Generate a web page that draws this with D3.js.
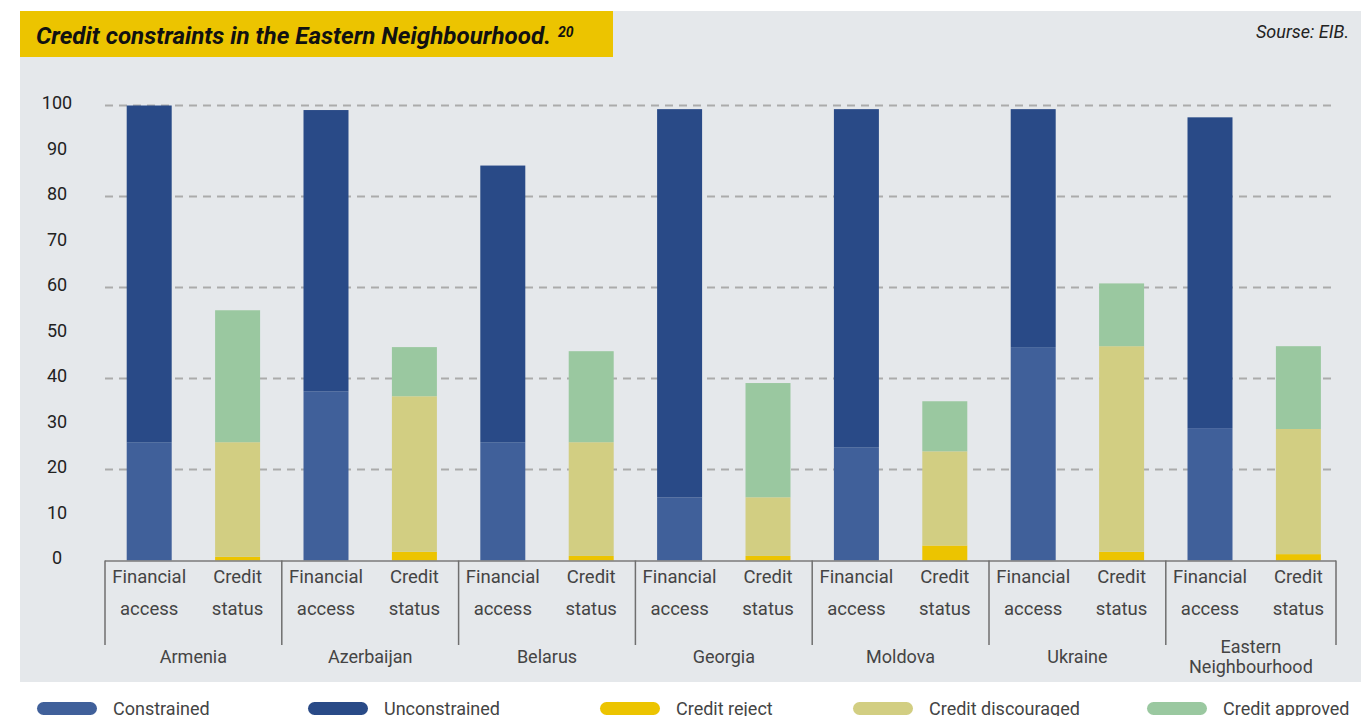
<!DOCTYPE html>
<html>
<head>
<meta charset="utf-8">
<script src="https://cdn.jsdelivr.net/npm/d3@7"></script>
<style>
  html, body { margin: 0; padding: 0; background: #ffffff; }
  svg { display: block; font-family: Roboto, "Open Sans", sans-serif; }
</style>
</head>
<body>
<svg id="chart" width="1361" height="716"></svg>
<script>
// ---------- data ----------
const countries = ["Armenia", "Azerbaijan", "Belarus", "Georgia", "Moldova", "Ukraine", "Eastern Neighbourhood"];
const countryLines = [["Armenia"], ["Azerbaijan"], ["Belarus"], ["Georgia"], ["Moldova"], ["Ukraine"], ["Eastern", "Neighbourhood"]];
const subCategories = ["Financial access", "Credit status"];
const subLines = [["Financial", "access"], ["Credit", "status"]];
const constrained      = [26.0, 37.2, 26.0, 13.9, 24.9, 46.9, 29.1];
const unconstrained    = [74.0, 61.8, 60.8, 85.3, 74.3, 52.3, 68.3];
const creditReject     = [0.8, 1.9, 1.0, 1.0, 3.3, 1.9, 1.4];
const creditDiscouraged= [25.2, 34.2, 25.0, 12.9, 20.7, 45.2, 27.5];
const creditApproved   = [29.0, 10.8, 20.0, 25.1, 11.0, 13.8, 18.2];
const yTicks = [0, 10, 20, 30, 40, 50, 60, 70, 80, 90, 100];
const gridTicks = [20, 40, 60, 80, 100];
const seriesNames = ["Constrained", "Unconstrained", "Credit reject", "Credit discouraged", "Credit approved"];
const seriesColors = ["#40609a", "#294a87", "#ecc400", "#d2ce82", "#9ac8a0"];

// ---------- layout ----------
const svg = d3.select("#chart");
const plotLeft = 105, plotRight = 1336, groupStep = 176.8;
const baseY = 560.5, topY = 105.5;

// panel background
svg.append("rect").attr("x", 20).attr("y", 11).attr("width", 1341).attr("height", 671).attr("fill", "#e5e8eb");
// title box
svg.append("rect").attr("x", 20).attr("y", 11).attr("width", 593).attr("height", 46).attr("fill", "#ecc400");
svg.append("text").attr("x", 36).attr("y", 44)
  .attr("font-size", 23).attr("font-weight", "bold").attr("font-style", "italic").attr("fill", "#111")
  .attr("textLength", 515).attr("lengthAdjust", "spacingAndGlyphs")
  .text("Credit constraints in the Eastern Neighbourhood.");
svg.append("text").attr("x", 558).attr("y", 37)
  .attr("font-size", 14).attr("font-weight", "bold").attr("font-style", "italic").attr("fill", "#111")
  .text("20");
svg.append("text").attr("x", 1349).attr("y", 38).attr("text-anchor", "end")
  .attr("font-size", 18).attr("font-style", "italic").attr("fill", "#222")
  .text("Sourse: EIB.");

// scales
const y = d3.scaleLinear().domain([0, 100]).range([baseY, topY]);
const x0 = d3.scaleBand().domain(countries).range([plotLeft, plotLeft + groupStep * countries.length]).padding(0);
const x1 = d3.scaleBand().domain(subCategories).range([0, x0.bandwidth()]).paddingInner(0.491).paddingOuter(0.2455);

// gridlines
svg.append("g").selectAll("line").data(gridTicks).join("line")
  .attr("x1", plotLeft).attr("x2", plotRight)
  .attr("y1", d => y(d)).attr("y2", d => y(d))
  .attr("stroke", "#ababab").attr("stroke-width", 2).attr("stroke-dasharray", "8,6");

// y labels
svg.append("g").selectAll("text").data(yTicks).join("text")
  .attr("x", 57).attr("y", d => y(d) - 1).attr("text-anchor", "middle").attr("dominant-baseline", "middle")
  .attr("font-size", 18).attr("fill", "#222").text(d => d);

// stacked data
const rows = countries.map((c, i) => ({
  country: c,
  "Constrained": constrained[i], "Unconstrained": unconstrained[i],
  "Credit reject": creditReject[i], "Credit discouraged": creditDiscouraged[i], "Credit approved": creditApproved[i]
}));
const color = d3.scaleOrdinal().domain(seriesNames).range(seriesColors);
const faStack = d3.stack().keys(["Constrained", "Unconstrained"])(rows);
const csStack = d3.stack().keys(["Credit reject", "Credit discouraged", "Credit approved"])(rows);

function drawStack(stack, sub) {
  svg.append("g").selectAll("g").data(stack).join("g")
    .attr("fill", s => color(s.key))
    .selectAll("rect").data(s => s).join("rect")
      .attr("x", d => x0(d.data.country) + x1(sub))
      .attr("width", x1.bandwidth())
      .attr("y", d => y(d[1]))
      .attr("height", d => y(d[0]) - y(d[1]));
}
drawStack(faStack, subCategories[0]);
drawStack(csStack, subCategories[1]);

// x axis
const axisG = svg.append("g");
axisG.append("line").attr("x1", plotLeft).attr("x2", plotRight).attr("y1", baseY + 0.5).attr("y2", baseY + 0.5)
  .attr("stroke", "#7a7a7a").attr("stroke-width", 1.5);
const tickXs = countries.map(c => x0(c)).concat([plotRight]);
axisG.selectAll("line.tick").data(tickXs).join("line").attr("class", "tick")
  .attr("x1", d => d).attr("x2", d => d).attr("y1", baseY).attr("y2", 645)
  .attr("stroke", "#6f6f6f").attr("stroke-width", 1.5);

// sub labels
countries.forEach(c => {
  subCategories.forEach((s, j) => {
    const cx = x0(c) + x1(s) + x1.bandwidth() / 2;
    subLines[j].forEach((ln, k) => {
      axisG.append("text").attr("x", cx).attr("y", 578 + k * 32)
        .attr("text-anchor", "middle").attr("dominant-baseline", "middle")
        .attr("font-size", 18.5).attr("fill", "#444").text(ln);
    });
  });
});
// country labels
countries.forEach((c, i) => {
  const x0c = x0(c), x1c = Math.min(x0c + x0.bandwidth(), plotRight);
  const cx = (x0c + x1c) / 2;
  const lines = countryLines[i];
  const startY = lines.length === 1 ? 658 : 648;
  lines.forEach((ln, k) => {
    axisG.append("text").attr("x", cx).attr("y", startY + k * 20)
      .attr("text-anchor", "middle").attr("dominant-baseline", "middle")
      .attr("font-size", 18).attr("fill", "#444").text(ln);
  });
});

// legend
const legendX = [37, 308, 600, 853, 1147];
const lg = svg.append("g");
seriesNames.forEach((n, i) => {
  lg.append("rect").attr("x", legendX[i]).attr("y", 702).attr("width", 60).attr("height", 13).attr("rx", 6.5)
    .attr("fill", color(n));
  lg.append("text").attr("x", legendX[i] + 76).attr("y", 715)
    .attr("font-size", 18).attr("fill", "#444").text(n);
});
</script>
</body>
</html>
